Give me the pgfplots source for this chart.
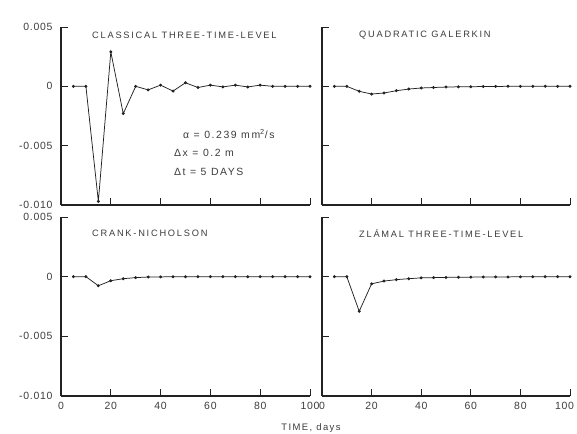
\documentclass[border=0pt]{standalone}
\usepackage{pgfplots}
\pgfplotsset{compat=1.18}
\usepackage{fontspec}
\setmainfont{Liberation Sans}[LetterSpace=7]
\newfontfamily\titlefont{Liberation Sans}[LetterSpace=19]
\newfontfamily\annfont{Liberation Sans}[LetterSpace=15]
\definecolor{ink}{HTML}{222222}
\definecolor{txt}{HTML}{3C3C3C}
\pgfplotsset{
  panel/.style={
    scale only axis, width=249bp, height=178bp,
    xmin=0, xmax=100, ymin=-0.010, ymax=0.005,
    axis x line*=bottom, axis y line*=left,
    axis line style={ink, line width=1.3pt, -},
    xtick={0,20,40,60,80,100},
    ytick={-0.010,-0.005,0,0.005},
    scaled y ticks=false, scaled x ticks=false,
    tick align=inside, major tick length=7bp,
    tick style={ink, line width=0.9pt},
    xticklabels={}, yticklabels={},
    tick label style={font=\fontsize{10.5}{11}\selectfont, text=txt},
    yticklabel style={xshift=-5bp},
    xticklabel style={yshift=-3bp},
    /pgf/number format/assume math mode=true,
    clip=false,
  },
  ylab/.style={yticklabels={-0.010,-0.005,0,0.005}},
  xlab/.style={xticklabels={0,20,40,60,80,100}},
  ser/.style={ink, line width=0.75pt, mark=*, mark size=1.1pt, mark options={fill=ink, draw=ink}},
}
\begin{document}
\begin{tikzpicture}
\useasboundingbox (0,0) rectangle (577bp,434bp);
% top left
\begin{axis}[panel, ylab, at={(61bp,229bp)}, anchor=south west]
\addplot[ser] coordinates {
(5,0) (10,0) (15,-0.0097) (20,0.0029) (25,-0.0023) (30,0) (35,-0.0003) (40,0.0001)
(45,-0.0004) (50,0.0003) (55,-0.0001) (60,0.0001) (65,-0.00005) (70,0.0001)
(75,-0.00005) (80,0.0001) (85,0) (90,0) (95,0) (100,0)};
\end{axis}
% top right
\begin{axis}[panel, at={(322bp,229bp)}, anchor=south west, width=248bp]
\addplot[ser] coordinates {
(5,0) (10,0) (15,-0.00042) (20,-0.00065) (25,-0.00056) (30,-0.00037) (35,-0.00023)
(40,-0.00014) (45,-0.0001) (50,-0.00006) (55,-0.00004) (60,-0.00003) (65,-0.00002)
(70,-0.00001) (75,0) (80,0) (85,0) (90,0) (95,0) (100,0)};
\end{axis}
% bottom left
\begin{axis}[panel, ylab, xlab, at={(61bp,38bp)}, anchor=south west, height=179bp]
\addplot[ser] coordinates {
(5,0) (10,0) (15,-0.00076) (20,-0.00034) (25,-0.00017) (30,-0.00008) (35,-0.00003)
(40,-0.00002) (45,-0.00001) (50,0) (55,0) (60,0) (65,0) (70,0) (75,0) (80,0)
(85,0) (90,0) (95,0) (100,0)};
\end{axis}
% bottom right
\begin{axis}[panel, at={(322bp,38bp)}, anchor=south west, width=248bp, height=179bp,
  xticklabels={0,20,40,60,80,{\makebox[8bp][r]{100}}}]
\addplot[ser] coordinates {
(5,0) (10,0) (15,-0.0029) (20,-0.0006) (25,-0.00037) (30,-0.00025) (35,-0.00017)
(40,-0.0001) (45,-0.00008) (50,-0.00006) (55,-0.00005) (60,-0.00004) (65,-0.00003)
(70,-0.00002) (75,-0.00002) (80,-0.00001) (85,-0.00001) (90,0) (95,0) (100,0)};
\end{axis}
% titles
\tikzset{ttl/.style={anchor=west, inner sep=0, text=txt, font=\titlefont\fontsize{9.3}{10}\selectfont}}
\node[ttl] at (92bp,399bp) {CLASSICAL THREE-TIME-LEVEL};
\node[ttl] at (359bp,399bp) {QUADRATIC GALERKIN};
\node[ttl] at (92bp,201bp) {CRANK-NICHOLSON};
\node[ttl] at (359bp,201bp) {ZLÁMAL THREE-TIME-LEVEL};
% annotation
\tikzset{ann/.style={anchor=west, inner sep=0, text=txt, font=\annfont\fontsize{10.5}{11}\selectfont}}
\node[ann] at (183bp,300bp) {α = 0.239 mm\textsuperscript{2}/s};
\node[ann] at (174bp,281bp) {Δx = 0.2 m};
\node[ann] at (174bp,262bp) {Δt = 5 DAYS};
% x label
\node[anchor=north, inner sep=0, text=txt, font=\annfont\fontsize{9.5}{10}\selectfont] at (311bp,11bp) {TIME, days};
\end{tikzpicture}
\end{document}
